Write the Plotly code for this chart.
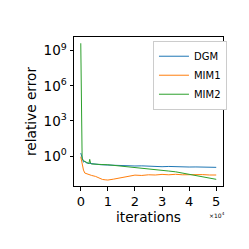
import plotly.graph_objects as go

# iterations
dgm_x = [0, 300, 600, 1000, 1500, 2000, 3000, 4000, 5000, 7500, 10000, 12500, 15000, 17500, 20000,
         22500, 25000, 27500, 30000, 32500, 35000, 37500, 40000, 42500, 45000, 47500, 50000]
dgm_y = [1.8, 0.9, 0.45, 0.30, 0.36, 0.26, 0.24, 0.22, 0.21, 0.18, 0.17, 0.158, 0.148, 0.151, 0.141,
         0.145, 0.132, 0.138, 0.123, 0.129, 0.120, 0.126, 0.115, 0.117, 0.112, 0.115, 0.108]

mim1_x = [0, 500, 1000, 1500, 2500, 4000, 5500, 7000, 8000, 9000, 10000, 12000, 14000, 16000, 18000,
          20000, 22500, 25000, 27500, 30000, 32500, 35000, 37500, 40000, 42500, 45000, 47500, 50000]
mim1_y = [0.87, 0.2, 0.063, 0.035, 0.028, 0.022, 0.018, 0.0126, 0.010, 0.0093, 0.0089, 0.0105, 0.0132,
          0.0166, 0.020, 0.0234, 0.0219, 0.025, 0.024, 0.027, 0.025, 0.0275, 0.025, 0.026, 0.025, 0.026,
          0.024, 0.024]

mim2_x = [0, 200, 500, 1000, 2000, 3000, 3300, 3600, 4000, 5000, 7500, 10000, 12500, 15000, 17500, 20000,
          22500, 25000, 27500, 30000, 32500, 35000, 37500, 40000, 42500, 45000, 47500, 50000]
mim2_y = [4.3e9, 1e4, 0.6, 0.40, 0.28, 0.224, 0.52, 0.25, 0.21, 0.21, 0.19, 0.18, 0.158, 0.141, 0.126,
          0.107, 0.100, 0.089, 0.076, 0.063, 0.052, 0.045, 0.035, 0.026, 0.020, 0.015, 0.012, 0.0102]

x_tickvals = [0, 10000, 20000, 30000, 40000, 50000]
x_ticktext = ["0", "1", "2", "3", "4", "5"]
y_tickvals = [1, 1e3, 1e6, 1e9]
y_ticktext = ["10<sup>0</sup>", "10<sup>3</sup>", "10<sup>6</sup>", "10<sup>9</sup>"]

FONT = "DejaVu Sans"
fig = go.Figure()
for name, xs, ys, c in [("DGM", dgm_x, dgm_y, "#1f77b4"),
                        ("MIM1", mim1_x, mim1_y, "#ff7f0e"),
                        ("MIM2", mim2_x, mim2_y, "#2ca02c")]:
    fig.add_trace(go.Scatter(x=xs, y=ys, mode="lines", name=name,
                             line=dict(color=c, width=1)))

# page body has an 8px default margin, so the figure is offset by 8px
fig.update_layout(
    width=241, height=241,
    margin=dict(l=66, r=26, t=29, b=63),
    plot_bgcolor="white", paper_bgcolor="white",
    font=dict(family=FONT, color="black", size=13.5),
    showlegend=True,
    legend=dict(x=0.53, y=0.975, xanchor="left", yanchor="top",
                bgcolor="white", bordercolor="#cccccc", borderwidth=1,
                font=dict(size=10, family=FONT), itemwidth=30,
                tracegroupgap=0),
    xaxis=dict(range=[-2500, 52500], tickvals=x_tickvals, ticktext=x_ticktext,
               tickfont=dict(size=13),
               showline=True, linecolor="black", linewidth=1, mirror=True,
               ticks="outside", ticklen=3.5, tickcolor="black", showgrid=False,
               zeroline=False, title=dict(text="iterations", standoff=0,
                                          font=dict(size=13.7))),
    yaxis=dict(type="log", range=[-2.56, 10.17], tickvals=y_tickvals, ticktext=y_ticktext,
               tickfont=dict(size=13.5),
               showline=True, linecolor="black", linewidth=1, mirror=True,
               ticks="outside", ticklen=3.5, tickcolor="black", showgrid=False,
               zeroline=False, title=dict(text="relative error", standoff=3,
                                          font=dict(size=13.7))),
    annotations=[dict(text="×10<sup>4</sup>", x=1.03, y=-0.155, xref="paper", yref="paper",
                      xanchor="right", yanchor="top", showarrow=False,
                      font=dict(size=6, family=FONT))],
)
fig.write_html("out.html")
